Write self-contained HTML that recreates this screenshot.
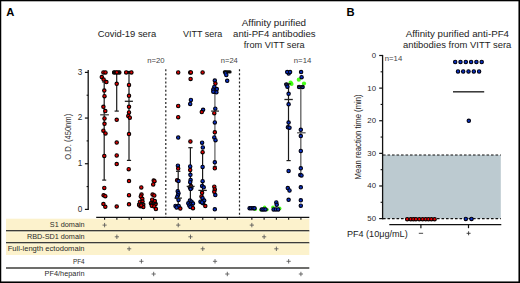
<!DOCTYPE html>
<html><head><meta charset="utf-8"><style>
html,body{margin:0;padding:0;background:#fff;}
#fig{position:relative;width:520px;height:283px;overflow:hidden;background:#fff;}
#fig svg{position:absolute;left:0;top:0;}
#fig text{font-family:"Liberation Sans",sans-serif;}
.border{position:absolute;left:0;top:0;width:520px;height:283px;box-sizing:border-box;border-style:solid;border-color:#000;border-width:1.2px 1.5px 1.5px 1.1px;}
</style></head><body>
<div id="fig">
<svg width="520" height="283" viewBox="0 0 520 283">
<rect x="6" y="218.7" width="303.3" height="36.3" fill="#fcf2cc"/>
<line x1="6" y1="230.8" x2="309.3" y2="230.8" stroke="#3c3c3a" stroke-width="1.6" stroke-linecap="butt"/>
<line x1="6" y1="232.10000000000002" x2="309.3" y2="232.10000000000002" stroke="#fffbe0" stroke-width="0.8" stroke-linecap="butt"/>
<line x1="6" y1="242.7" x2="309.3" y2="242.7" stroke="#3c3c3a" stroke-width="1.6" stroke-linecap="butt"/>
<line x1="6" y1="244.0" x2="309.3" y2="244.0" stroke="#fffbe0" stroke-width="0.8" stroke-linecap="butt"/>
<line x1="6" y1="268.0" x2="309.3" y2="268.0" stroke="#3c3c3a" stroke-width="1.6" stroke-linecap="butt"/>
<text x="84.6" y="227.2" font-size="7.6" text-anchor="end" font-weight="normal" fill="#2a2a2a" textLength="34.8" lengthAdjust="spacingAndGlyphs" >S1 domain</text>
<path d="M102.50 225.1h4.2M104.60 222.9v4.4" stroke="#555" stroke-width="0.85"/>
<path d="M176.12 225.1h4.2M178.22 222.9v4.4" stroke="#555" stroke-width="0.85"/>
<path d="M249.74 225.1h4.2M251.84 222.9v4.4" stroke="#555" stroke-width="0.85"/>
<text x="84.6" y="239.1" font-size="7.6" text-anchor="end" font-weight="normal" fill="#2a2a2a" textLength="57.7" lengthAdjust="spacingAndGlyphs" >RBD-SD1 domain</text>
<path d="M114.77 236.8h4.2M116.87 234.60000000000002v4.4" stroke="#555" stroke-width="0.85"/>
<path d="M188.39 236.8h4.2M190.49 234.60000000000002v4.4" stroke="#555" stroke-width="0.85"/>
<path d="M262.01 236.8h4.2M264.11 234.60000000000002v4.4" stroke="#555" stroke-width="0.85"/>
<text x="84.6" y="250.79999999999998" font-size="7.6" text-anchor="end" font-weight="normal" fill="#2a2a2a" textLength="76.9" lengthAdjust="spacingAndGlyphs" >Full-length ectodomain</text>
<path d="M127.04 248.8h4.2M129.14 246.60000000000002v4.4" stroke="#555" stroke-width="0.85"/>
<path d="M200.66 248.8h4.2M202.76 246.60000000000002v4.4" stroke="#555" stroke-width="0.85"/>
<path d="M274.28 248.8h4.2M276.38 246.60000000000002v4.4" stroke="#555" stroke-width="0.85"/>
<text x="84.6" y="263.59999999999997" font-size="7.6" text-anchor="end" font-weight="normal" fill="#2a2a2a" textLength="11.6" lengthAdjust="spacingAndGlyphs" >PF4</text>
<path d="M139.31 261.3h4.2M141.41 259.1v4.4" stroke="#555" stroke-width="0.85"/>
<path d="M212.93 261.3h4.2M215.03 259.1v4.4" stroke="#555" stroke-width="0.85"/>
<path d="M286.55 261.3h4.2M288.65 259.1v4.4" stroke="#555" stroke-width="0.85"/>
<text x="84.6" y="276.3" font-size="7.6" text-anchor="end" font-weight="normal" fill="#2a2a2a" textLength="40.0" lengthAdjust="spacingAndGlyphs" >PF4/heparin</text>
<path d="M151.58 274.0h4.2M153.68 271.8v4.4" stroke="#555" stroke-width="0.85"/>
<path d="M225.20 274.0h4.2M227.30 271.8v4.4" stroke="#555" stroke-width="0.85"/>
<path d="M298.82 274.0h4.2M300.92 271.8v4.4" stroke="#555" stroke-width="0.85"/>
<line x1="88.2" y1="69.9" x2="88.2" y2="210.0" stroke="#111" stroke-width="1.3"/>
<line x1="84.9" y1="209.4" x2="88.2" y2="209.4" stroke="#111" stroke-width="1.2" stroke-linecap="butt"/>
<line x1="84.9" y1="163.73000000000002" x2="88.2" y2="163.73000000000002" stroke="#111" stroke-width="1.2" stroke-linecap="butt"/>
<line x1="84.9" y1="118.06" x2="88.2" y2="118.06" stroke="#111" stroke-width="1.2" stroke-linecap="butt"/>
<line x1="84.9" y1="72.39000000000001" x2="88.2" y2="72.39000000000001" stroke="#111" stroke-width="1.2" stroke-linecap="butt"/>
<line x1="86.6" y1="186.565" x2="88.2" y2="186.565" stroke="#111" stroke-width="1.1" stroke-linecap="butt"/>
<line x1="86.6" y1="140.895" x2="88.2" y2="140.895" stroke="#111" stroke-width="1.1" stroke-linecap="butt"/>
<line x1="86.6" y1="95.225" x2="88.2" y2="95.225" stroke="#111" stroke-width="1.1" stroke-linecap="butt"/>
<text x="82.2" y="211.8" font-size="8.2" text-anchor="end" font-weight="normal" fill="#2a2a2a" >0</text>
<text x="82.2" y="166.13000000000002" font-size="8.2" text-anchor="end" font-weight="normal" fill="#2a2a2a" >1</text>
<text x="82.2" y="120.46000000000001" font-size="8.2" text-anchor="end" font-weight="normal" fill="#2a2a2a" >2</text>
<text x="82.2" y="74.79000000000002" font-size="8.2" text-anchor="end" font-weight="normal" fill="#2a2a2a" >3</text>
<line x1="96.2" y1="217.3" x2="309.3" y2="217.3" stroke="#111" stroke-width="1.3" stroke-linecap="butt"/>
<line x1="104.6" y1="217.3" x2="104.6" y2="219.8" stroke="#111" stroke-width="1.1"/>
<line x1="116.86999999999999" y1="217.3" x2="116.86999999999999" y2="219.8" stroke="#111" stroke-width="1.1"/>
<line x1="129.14" y1="217.3" x2="129.14" y2="219.8" stroke="#111" stroke-width="1.1"/>
<line x1="141.41" y1="217.3" x2="141.41" y2="219.8" stroke="#111" stroke-width="1.1"/>
<line x1="153.68" y1="217.3" x2="153.68" y2="219.8" stroke="#111" stroke-width="1.1"/>
<line x1="178.22" y1="217.3" x2="178.22" y2="219.8" stroke="#111" stroke-width="1.1"/>
<line x1="190.49" y1="217.3" x2="190.49" y2="219.8" stroke="#111" stroke-width="1.1"/>
<line x1="202.76" y1="217.3" x2="202.76" y2="219.8" stroke="#111" stroke-width="1.1"/>
<line x1="215.02999999999997" y1="217.3" x2="215.02999999999997" y2="219.8" stroke="#111" stroke-width="1.1"/>
<line x1="227.29999999999998" y1="217.3" x2="227.29999999999998" y2="219.8" stroke="#111" stroke-width="1.1"/>
<line x1="251.84" y1="217.3" x2="251.84" y2="219.8" stroke="#111" stroke-width="1.1"/>
<line x1="264.11" y1="217.3" x2="264.11" y2="219.8" stroke="#111" stroke-width="1.1"/>
<line x1="276.38" y1="217.3" x2="276.38" y2="219.8" stroke="#111" stroke-width="1.1"/>
<line x1="288.65" y1="217.3" x2="288.65" y2="219.8" stroke="#111" stroke-width="1.1"/>
<line x1="300.91999999999996" y1="217.3" x2="300.91999999999996" y2="219.8" stroke="#111" stroke-width="1.1"/>
<line x1="165.8" y1="69.2" x2="165.8" y2="217" stroke="#222" stroke-width="1.2" stroke-dasharray="2 2.1"/>
<line x1="239.5" y1="69.2" x2="239.5" y2="217" stroke="#222" stroke-width="1.2" stroke-dasharray="2 2.1"/>
<text transform="translate(71.2,136.8) rotate(-90)" font-size="8.8" text-anchor="middle" fill="#333" textLength="46" lengthAdjust="spacingAndGlyphs">O.D. (450nm)</text>
<text x="6.2" y="15.9" font-size="11.2" text-anchor="start" font-weight="bold" fill="#000" >A</text>
<text x="346.6" y="16.3" font-size="11.2" text-anchor="start" font-weight="bold" fill="#000" >B</text>
<text x="97.7" y="36.9" font-size="9.3" text-anchor="start" font-weight="normal" fill="#222" textLength="58.5" lengthAdjust="spacingAndGlyphs" >Covid-19 sera</text>
<text x="182.9" y="37.0" font-size="9.3" text-anchor="start" font-weight="normal" fill="#222" textLength="39.4" lengthAdjust="spacingAndGlyphs" >VITT sera</text>
<text x="241.8" y="26.2" font-size="9.3" text-anchor="start" font-weight="normal" fill="#222" textLength="64.3" lengthAdjust="spacingAndGlyphs" >Affinity purified</text>
<text x="233.1" y="37.1" font-size="9.3" text-anchor="start" font-weight="normal" fill="#222" textLength="82.5" lengthAdjust="spacingAndGlyphs" >anti-PF4 antibodies</text>
<text x="243.8" y="48.2" font-size="9.3" text-anchor="start" font-weight="normal" fill="#222" textLength="60.9" lengthAdjust="spacingAndGlyphs" >from VITT sera</text>
<text x="147.2" y="63.0" font-size="6.6" text-anchor="start" font-weight="normal" fill="#444" textLength="17.4" lengthAdjust="spacingAndGlyphs" >n=20</text>
<text x="220.8" y="63.0" font-size="6.6" text-anchor="start" font-weight="normal" fill="#444" textLength="17.0" lengthAdjust="spacingAndGlyphs" >n=24</text>
<text x="293.8" y="63.0" font-size="6.6" text-anchor="start" font-weight="normal" fill="#444" textLength="17.5" lengthAdjust="spacingAndGlyphs" >n=14</text>
<line x1="104.2" y1="82" x2="104.2" y2="180.1" stroke="#1a1a1a" stroke-width="1.2"/>
<line x1="102.2" y1="180.1" x2="106.2" y2="180.1" stroke="#1a1a1a" stroke-width="1.2" stroke-linecap="butt"/>
<line x1="102.2" y1="82" x2="106.2" y2="82" stroke="#1a1a1a" stroke-width="1.2" stroke-linecap="butt"/>
<line x1="116.7" y1="72.4" x2="116.7" y2="111.1" stroke="#1a1a1a" stroke-width="1.2"/>
<line x1="114.6" y1="111.1" x2="118.8" y2="111.1" stroke="#1a1a1a" stroke-width="1.2" stroke-linecap="butt"/>
<line x1="129" y1="72.4" x2="129" y2="160.4" stroke="#1a1a1a" stroke-width="1.2"/>
<line x1="126.9" y1="160.4" x2="131.1" y2="160.4" stroke="#1a1a1a" stroke-width="1.2" stroke-linecap="butt"/>
<line x1="178.2" y1="171.3" x2="178.2" y2="206" stroke="#1a1a1a" stroke-width="1.2"/>
<line x1="176" y1="171.3" x2="180.4" y2="171.3" stroke="#1a1a1a" stroke-width="1.2" stroke-linecap="butt"/>
<line x1="190.4" y1="147.7" x2="190.4" y2="203" stroke="#1a1a1a" stroke-width="1.2"/>
<line x1="188.3" y1="147.7" x2="192.6" y2="147.7" stroke="#1a1a1a" stroke-width="1.2" stroke-linecap="butt"/>
<line x1="202.6" y1="150" x2="202.6" y2="200" stroke="#1a1a1a" stroke-width="1.2"/>
<line x1="214.9" y1="92.8" x2="214.9" y2="166.5" stroke="#6a6a6a" stroke-width="1.3"/>
<line x1="212.8" y1="166.5" x2="217" y2="166.5" stroke="#6a6a6a" stroke-width="1.2" stroke-linecap="butt"/>
<line x1="288.5" y1="83.9" x2="288.5" y2="160.6" stroke="#1a1a1a" stroke-width="1.2"/>
<line x1="286.5" y1="160.6" x2="290.7" y2="160.6" stroke="#1a1a1a" stroke-width="1.2" stroke-linecap="butt"/>
<line x1="300.8" y1="86.4" x2="300.8" y2="175" stroke="#6a6a6a" stroke-width="1.4"/>
<line x1="298.6" y1="175" x2="303" y2="175" stroke="#6a6a6a" stroke-width="1.2" stroke-linecap="butt"/>
<circle cx="103.4" cy="72.4" r="1.7" fill="#e80000" stroke="#0a0000" stroke-width="1.1"/>
<circle cx="105.5" cy="72.4" r="1.7" fill="#e80000" stroke="#0a0000" stroke-width="1.1"/>
<circle cx="101.8" cy="77.1" r="1.7" fill="#e80000" stroke="#0a0000" stroke-width="1.1"/>
<circle cx="103.6" cy="79.6" r="1.7" fill="#e80000" stroke="#0a0000" stroke-width="1.1"/>
<circle cx="106.4" cy="82.1" r="1.7" fill="#e80000" stroke="#0a0000" stroke-width="1.1"/>
<circle cx="104.3" cy="90.6" r="1.7" fill="#e80000" stroke="#0a0000" stroke-width="1.1"/>
<circle cx="104.5" cy="96.2" r="1.7" fill="#e80000" stroke="#0a0000" stroke-width="1.1"/>
<circle cx="103.4" cy="106.8" r="1.7" fill="#e80000" stroke="#0a0000" stroke-width="1.1"/>
<circle cx="105.3" cy="111.1" r="1.7" fill="#e80000" stroke="#0a0000" stroke-width="1.1"/>
<circle cx="104.5" cy="118.5" r="1.7" fill="#e80000" stroke="#0a0000" stroke-width="1.1"/>
<circle cx="104.5" cy="123.8" r="1.7" fill="#e80000" stroke="#0a0000" stroke-width="1.1"/>
<circle cx="103.4" cy="130.7" r="1.7" fill="#e80000" stroke="#0a0000" stroke-width="1.1"/>
<circle cx="105.5" cy="133.4" r="1.7" fill="#e80000" stroke="#0a0000" stroke-width="1.1"/>
<circle cx="104.3" cy="155.9" r="1.7" fill="#e80000" stroke="#0a0000" stroke-width="1.1"/>
<circle cx="104.3" cy="188" r="1.7" fill="#e80000" stroke="#0a0000" stroke-width="1.1"/>
<circle cx="103.6" cy="195.3" r="1.7" fill="#e80000" stroke="#0a0000" stroke-width="1.1"/>
<circle cx="105.3" cy="196.2" r="1.7" fill="#e80000" stroke="#0a0000" stroke-width="1.1"/>
<circle cx="103.4" cy="204.1" r="1.7" fill="#e80000" stroke="#0a0000" stroke-width="1.1"/>
<circle cx="105.3" cy="206.8" r="1.7" fill="#e80000" stroke="#0a0000" stroke-width="1.1"/>
<circle cx="114.2" cy="72.4" r="1.7" fill="#e80000" stroke="#0a0000" stroke-width="1.1"/>
<circle cx="119.3" cy="72.4" r="1.7" fill="#e80000" stroke="#0a0000" stroke-width="1.1"/>
<circle cx="116.7" cy="83.8" r="1.7" fill="#e80000" stroke="#0a0000" stroke-width="1.1"/>
<circle cx="116.7" cy="119.8" r="1.7" fill="#e80000" stroke="#0a0000" stroke-width="1.1"/>
<circle cx="116.7" cy="142.6" r="1.7" fill="#e80000" stroke="#0a0000" stroke-width="1.1"/>
<circle cx="116.7" cy="155.5" r="1.7" fill="#e80000" stroke="#0a0000" stroke-width="1.1"/>
<circle cx="116.7" cy="164.1" r="1.7" fill="#e80000" stroke="#0a0000" stroke-width="1.1"/>
<circle cx="116.7" cy="206.6" r="1.7" fill="#e80000" stroke="#0a0000" stroke-width="1.1"/>
<circle cx="129" cy="84.9" r="1.7" fill="#e80000" stroke="#0a0000" stroke-width="1.1"/>
<circle cx="129" cy="95.8" r="1.7" fill="#e80000" stroke="#0a0000" stroke-width="1.1"/>
<circle cx="129" cy="106.8" r="1.7" fill="#e80000" stroke="#0a0000" stroke-width="1.1"/>
<circle cx="129" cy="112.4" r="1.7" fill="#e80000" stroke="#0a0000" stroke-width="1.1"/>
<circle cx="128.3" cy="115.9" r="1.7" fill="#e80000" stroke="#0a0000" stroke-width="1.1"/>
<circle cx="129.8" cy="117.7" r="1.7" fill="#e80000" stroke="#0a0000" stroke-width="1.1"/>
<circle cx="129" cy="134.1" r="1.7" fill="#e80000" stroke="#0a0000" stroke-width="1.1"/>
<circle cx="128.7" cy="169.2" r="1.7" fill="#e80000" stroke="#0a0000" stroke-width="1.1"/>
<circle cx="129" cy="181.1" r="1.7" fill="#e80000" stroke="#0a0000" stroke-width="1.1"/>
<circle cx="129" cy="195.2" r="1.7" fill="#e80000" stroke="#0a0000" stroke-width="1.1"/>
<circle cx="129" cy="204.3" r="1.7" fill="#e80000" stroke="#0a0000" stroke-width="1.1"/>
<circle cx="141.3" cy="187.4" r="1.7" fill="#e80000" stroke="#0a0000" stroke-width="1.1"/>
<circle cx="141.5" cy="194.6" r="1.7" fill="#e80000" stroke="#0a0000" stroke-width="1.1"/>
<circle cx="140.8" cy="196.5" r="1.7" fill="#e80000" stroke="#0a0000" stroke-width="1.1"/>
<circle cx="142.3" cy="198.8" r="1.7" fill="#e80000" stroke="#0a0000" stroke-width="1.1"/>
<circle cx="139.9" cy="202" r="1.7" fill="#e80000" stroke="#0a0000" stroke-width="1.1"/>
<circle cx="142.5" cy="201.6" r="1.7" fill="#e80000" stroke="#0a0000" stroke-width="1.1"/>
<circle cx="139.1" cy="205" r="1.7" fill="#e80000" stroke="#0a0000" stroke-width="1.1"/>
<circle cx="141.6" cy="204.1" r="1.7" fill="#e80000" stroke="#0a0000" stroke-width="1.1"/>
<circle cx="143.2" cy="204.8" r="1.7" fill="#e80000" stroke="#0a0000" stroke-width="1.1"/>
<circle cx="140.4" cy="206.2" r="1.7" fill="#e80000" stroke="#0a0000" stroke-width="1.1"/>
<circle cx="143.3" cy="207.1" r="1.7" fill="#e80000" stroke="#0a0000" stroke-width="1.1"/>
<circle cx="141.2" cy="205.4" r="1.7" fill="#e80000" stroke="#0a0000" stroke-width="1.1"/>
<circle cx="153.7" cy="180.4" r="1.7" fill="#e80000" stroke="#0a0000" stroke-width="1.1"/>
<circle cx="154.5" cy="181.2" r="1.7" fill="#e80000" stroke="#0a0000" stroke-width="1.1"/>
<circle cx="153.2" cy="184.4" r="1.7" fill="#e80000" stroke="#0a0000" stroke-width="1.1"/>
<circle cx="152.6" cy="194.6" r="1.7" fill="#e80000" stroke="#0a0000" stroke-width="1.1"/>
<circle cx="154.3" cy="195.5" r="1.7" fill="#e80000" stroke="#0a0000" stroke-width="1.1"/>
<circle cx="152.2" cy="199.7" r="1.7" fill="#e80000" stroke="#0a0000" stroke-width="1.1"/>
<circle cx="154.8" cy="201.1" r="1.7" fill="#e80000" stroke="#0a0000" stroke-width="1.1"/>
<circle cx="150.9" cy="203.3" r="1.7" fill="#e80000" stroke="#0a0000" stroke-width="1.1"/>
<circle cx="153.5" cy="203.7" r="1.7" fill="#e80000" stroke="#0a0000" stroke-width="1.1"/>
<circle cx="155.6" cy="204.1" r="1.7" fill="#e80000" stroke="#0a0000" stroke-width="1.1"/>
<circle cx="151.8" cy="205.8" r="1.7" fill="#e80000" stroke="#0a0000" stroke-width="1.1"/>
<circle cx="154.3" cy="206.5" r="1.7" fill="#e80000" stroke="#0a0000" stroke-width="1.1"/>
<circle cx="155.9" cy="209" r="1.7" fill="#e80000" stroke="#0a0000" stroke-width="1.1"/>
<circle cx="178.2" cy="72.4" r="1.7" fill="#e80000" stroke="#0a0000" stroke-width="1.1"/>
<circle cx="178.2" cy="106" r="1.7" fill="#e80000" stroke="#0a0000" stroke-width="1.1"/>
<circle cx="178.2" cy="117.2" r="1.7" fill="#e80000" stroke="#0a0000" stroke-width="1.1"/>
<circle cx="178.2" cy="137.6" r="1.7" fill="#0a32c8" stroke="#000010" stroke-width="1.1"/>
<circle cx="177.9" cy="165.7" r="1.7" fill="#0a32c8" stroke="#000010" stroke-width="1.1"/>
<circle cx="178.2" cy="168.6" r="1.7" fill="#e80000" stroke="#0a0000" stroke-width="1.1"/>
<circle cx="177.1" cy="180.3" r="1.7" fill="#e80000" stroke="#0a0000" stroke-width="1.1"/>
<circle cx="178.5" cy="181.1" r="1.7" fill="#0a32c8" stroke="#000010" stroke-width="1.1"/>
<circle cx="177.7" cy="191.3" r="1.7" fill="#0a32c8" stroke="#000010" stroke-width="1.1"/>
<circle cx="178.5" cy="193.2" r="1.7" fill="#0a32c8" stroke="#000010" stroke-width="1.1"/>
<circle cx="177.9" cy="195.3" r="1.7" fill="#0a32c8" stroke="#000010" stroke-width="1.1"/>
<circle cx="177.1" cy="197.2" r="1.7" fill="#0a32c8" stroke="#000010" stroke-width="1.1"/>
<circle cx="178.5" cy="200.1" r="1.7" fill="#0a32c8" stroke="#000010" stroke-width="1.1"/>
<circle cx="175.5" cy="205.9" r="1.7" fill="#0a32c8" stroke="#000010" stroke-width="1.1"/>
<circle cx="177.1" cy="206.8" r="1.7" fill="#0a32c8" stroke="#000010" stroke-width="1.1"/>
<circle cx="178.7" cy="205.9" r="1.7" fill="#0a32c8" stroke="#000010" stroke-width="1.1"/>
<circle cx="176.6" cy="207.5" r="1.7" fill="#0a32c8" stroke="#000010" stroke-width="1.1"/>
<circle cx="180.3" cy="208.6" r="1.7" fill="#e80000" stroke="#0a0000" stroke-width="1.1"/>
<circle cx="190.2" cy="72.4" r="1.7" fill="#e80000" stroke="#0a0000" stroke-width="1.1"/>
<circle cx="190.9" cy="72.4" r="1.7" fill="#e80000" stroke="#0a0000" stroke-width="1.1"/>
<circle cx="190.6" cy="78.9" r="1.7" fill="#e80000" stroke="#0a0000" stroke-width="1.1"/>
<circle cx="190.9" cy="100" r="1.7" fill="#0a32c8" stroke="#000010" stroke-width="1.1"/>
<circle cx="190.2" cy="103.9" r="1.7" fill="#0a32c8" stroke="#000010" stroke-width="1.1"/>
<circle cx="190.4" cy="141.5" r="1.7" fill="#e80000" stroke="#0a0000" stroke-width="1.1"/>
<circle cx="190.2" cy="166.5" r="1.7" fill="#0a32c8" stroke="#000010" stroke-width="1.1"/>
<circle cx="190.2" cy="170" r="1.7" fill="#e80000" stroke="#0a0000" stroke-width="1.1"/>
<circle cx="190.4" cy="174.8" r="1.7" fill="#0a32c8" stroke="#000010" stroke-width="1.1"/>
<circle cx="190.6" cy="180" r="1.7" fill="#0a32c8" stroke="#000010" stroke-width="1.1"/>
<circle cx="190.2" cy="182.2" r="1.7" fill="#0a32c8" stroke="#000010" stroke-width="1.1"/>
<circle cx="190.9" cy="186.1" r="1.7" fill="#e80000" stroke="#0a0000" stroke-width="1.1"/>
<circle cx="189.9" cy="187.5" r="1.7" fill="#0a32c8" stroke="#000010" stroke-width="1.1"/>
<circle cx="191.4" cy="188" r="1.7" fill="#0a32c8" stroke="#000010" stroke-width="1.1"/>
<circle cx="190.6" cy="189.1" r="1.7" fill="#0a32c8" stroke="#000010" stroke-width="1.1"/>
<circle cx="189.9" cy="200.6" r="1.7" fill="#0a32c8" stroke="#000010" stroke-width="1.1"/>
<circle cx="191.5" cy="201.7" r="1.7" fill="#0a32c8" stroke="#000010" stroke-width="1.1"/>
<circle cx="188.3" cy="203.3" r="1.7" fill="#0a32c8" stroke="#000010" stroke-width="1.1"/>
<circle cx="190.9" cy="203.8" r="1.7" fill="#0a32c8" stroke="#000010" stroke-width="1.1"/>
<circle cx="193" cy="203.6" r="1.7" fill="#0a32c8" stroke="#000010" stroke-width="1.1"/>
<circle cx="189.3" cy="205.4" r="1.7" fill="#0a32c8" stroke="#000010" stroke-width="1.1"/>
<circle cx="191.5" cy="205.9" r="1.7" fill="#0a32c8" stroke="#000010" stroke-width="1.1"/>
<circle cx="190.4" cy="207" r="1.7" fill="#0a32c8" stroke="#000010" stroke-width="1.1"/>
<circle cx="193" cy="208.2" r="1.7" fill="#e80000" stroke="#0a0000" stroke-width="1.1"/>
<circle cx="202.6" cy="72.4" r="1.7" fill="#e80000" stroke="#0a0000" stroke-width="1.1"/>
<circle cx="203.1" cy="109.8" r="1.7" fill="#0a32c8" stroke="#000010" stroke-width="1.1"/>
<circle cx="201.8" cy="112.1" r="1.7" fill="#e80000" stroke="#0a0000" stroke-width="1.1"/>
<circle cx="202.1" cy="142.7" r="1.7" fill="#0a32c8" stroke="#000010" stroke-width="1.1"/>
<circle cx="202.8" cy="147.5" r="1.7" fill="#0a32c8" stroke="#000010" stroke-width="1.1"/>
<circle cx="202.6" cy="152.2" r="1.7" fill="#e80000" stroke="#0a0000" stroke-width="1.1"/>
<circle cx="202.6" cy="166.9" r="1.7" fill="#0a32c8" stroke="#000010" stroke-width="1.1"/>
<circle cx="202.6" cy="181.2" r="1.7" fill="#0a32c8" stroke="#000010" stroke-width="1.1"/>
<circle cx="202.1" cy="185.9" r="1.7" fill="#0a32c8" stroke="#000010" stroke-width="1.1"/>
<circle cx="203.7" cy="187.3" r="1.7" fill="#0a32c8" stroke="#000010" stroke-width="1.1"/>
<circle cx="202.1" cy="192.8" r="1.7" fill="#e80000" stroke="#0a0000" stroke-width="1.1"/>
<circle cx="201.5" cy="196.4" r="1.7" fill="#e80000" stroke="#0a0000" stroke-width="1.1"/>
<circle cx="202.6" cy="198.2" r="1.7" fill="#0a32c8" stroke="#000010" stroke-width="1.1"/>
<circle cx="204.2" cy="200.6" r="1.7" fill="#0a32c8" stroke="#000010" stroke-width="1.1"/>
<circle cx="200.5" cy="201.7" r="1.7" fill="#0a32c8" stroke="#000010" stroke-width="1.1"/>
<circle cx="203.1" cy="203.3" r="1.7" fill="#0a32c8" stroke="#000010" stroke-width="1.1"/>
<circle cx="202.1" cy="202.5" r="1.7" fill="#0a32c8" stroke="#000010" stroke-width="1.1"/>
<circle cx="205.3" cy="206.1" r="1.7" fill="#e80000" stroke="#0a0000" stroke-width="1.1"/>
<circle cx="214.8" cy="80.6" r="1.7" fill="#0a32c8" stroke="#000010" stroke-width="1.1"/>
<circle cx="215.4" cy="83.6" r="1.7" fill="#e80000" stroke="#0a0000" stroke-width="1.1"/>
<circle cx="214.3" cy="87" r="1.7" fill="#0a32c8" stroke="#000010" stroke-width="1.1"/>
<circle cx="216.8" cy="89.1" r="1.7" fill="#0a32c8" stroke="#000010" stroke-width="1.1"/>
<circle cx="213.3" cy="89.6" r="1.7" fill="#0a32c8" stroke="#000010" stroke-width="1.1"/>
<circle cx="214.8" cy="91.7" r="1.7" fill="#0a32c8" stroke="#000010" stroke-width="1.1"/>
<circle cx="216.4" cy="92.3" r="1.7" fill="#0a32c8" stroke="#000010" stroke-width="1.1"/>
<circle cx="213.3" cy="91.7" r="1.7" fill="#0a32c8" stroke="#000010" stroke-width="1.1"/>
<circle cx="215.3" cy="108.7" r="1.7" fill="#0a32c8" stroke="#000010" stroke-width="1.1"/>
<circle cx="214.3" cy="113.2" r="1.7" fill="#e80000" stroke="#0a0000" stroke-width="1.1"/>
<circle cx="214.8" cy="122.4" r="1.7" fill="#0a32c8" stroke="#000010" stroke-width="1.1"/>
<circle cx="214.8" cy="132.3" r="1.7" fill="#e80000" stroke="#0a0000" stroke-width="1.1"/>
<circle cx="214.3" cy="137.4" r="1.7" fill="#0a32c8" stroke="#000010" stroke-width="1.1"/>
<circle cx="215.5" cy="140.2" r="1.7" fill="#0a32c8" stroke="#000010" stroke-width="1.1"/>
<circle cx="214.8" cy="162.3" r="1.7" fill="#0a32c8" stroke="#000010" stroke-width="1.1"/>
<circle cx="214.8" cy="168.3" r="1.7" fill="#e80000" stroke="#0a0000" stroke-width="1.1"/>
<circle cx="214.3" cy="186.7" r="1.7" fill="#e80000" stroke="#0a0000" stroke-width="1.1"/>
<circle cx="214.8" cy="189.4" r="1.7" fill="#e80000" stroke="#0a0000" stroke-width="1.1"/>
<circle cx="214.3" cy="191.8" r="1.7" fill="#e80000" stroke="#0a0000" stroke-width="1.1"/>
<circle cx="215.3" cy="195.1" r="1.7" fill="#0a32c8" stroke="#000010" stroke-width="1.1"/>
<circle cx="214.8" cy="209.3" r="1.7" fill="#0a32c8" stroke="#000010" stroke-width="1.1"/>
<circle cx="227.2" cy="80.8" r="1.7" fill="#0a32c8" stroke="#000010" stroke-width="1.1"/>
<circle cx="255.2" cy="209.0" r="1.9" fill="#33ff00" opacity="0.9"/>
<circle cx="264.6" cy="207.2" r="1.7" fill="#33ff00" opacity="0.9"/>
<circle cx="260.6" cy="209.8" r="1.6" fill="#33ff00" opacity="0.9"/>
<circle cx="267.2" cy="209.6" r="1.6" fill="#33ff00" opacity="0.9"/>
<circle cx="273.0" cy="207.2" r="1.8" fill="#33ff00" opacity="0.9"/>
<circle cx="279.6" cy="208.4" r="1.9" fill="#33ff00" opacity="0.9"/>
<circle cx="290.6" cy="82.6" r="2.1" fill="#33ff00" opacity="0.9"/>
<circle cx="291.6" cy="84.0" r="2.0" fill="#33ff00" opacity="0.9"/>
<circle cx="298.8" cy="79.7" r="2.1" fill="#33ff00" opacity="0.9"/>
<circle cx="304.0" cy="83.5" r="2.1" fill="#33ff00" opacity="0.9"/>
<line x1="248.6" y1="208.3" x2="255.2" y2="208.3" stroke="#111" stroke-width="2.0" stroke-linecap="butt"/>
<line x1="260.6" y1="209.4" x2="266.8" y2="209.4" stroke="#111" stroke-width="2.0" stroke-linecap="butt"/>
<line x1="272.8" y1="209.4" x2="279.4" y2="209.4" stroke="#111" stroke-width="2.0" stroke-linecap="butt"/>
<circle cx="249.6" cy="208.3" r="1.7" fill="#0a32c8" stroke="#000010" stroke-width="1.1"/>
<circle cx="251.3" cy="208.3" r="1.7" fill="#0a32c8" stroke="#000010" stroke-width="1.1"/>
<circle cx="253.2" cy="208.3" r="1.7" fill="#0a32c8" stroke="#000010" stroke-width="1.1"/>
<circle cx="254.5" cy="208.3" r="1.7" fill="#0a32c8" stroke="#000010" stroke-width="1.1"/>
<circle cx="261.8" cy="209.4" r="1.7" fill="#0a32c8" stroke="#000010" stroke-width="1.1"/>
<circle cx="263.5" cy="209.4" r="1.7" fill="#0a32c8" stroke="#000010" stroke-width="1.1"/>
<circle cx="265.5" cy="209.4" r="1.7" fill="#0a32c8" stroke="#000010" stroke-width="1.1"/>
<circle cx="276.3" cy="202.5" r="1.7" fill="#0a32c8" stroke="#000010" stroke-width="1.1"/>
<circle cx="276.7" cy="204.8" r="1.7" fill="#0a32c8" stroke="#000010" stroke-width="1.1"/>
<circle cx="273.6" cy="209.4" r="1.7" fill="#0a32c8" stroke="#000010" stroke-width="1.1"/>
<circle cx="275.9" cy="209.4" r="1.7" fill="#0a32c8" stroke="#000010" stroke-width="1.1"/>
<circle cx="278.2" cy="209.4" r="1.7" fill="#0a32c8" stroke="#000010" stroke-width="1.1"/>
<circle cx="288.7" cy="73.6" r="1.7" fill="#0a32c8" stroke="#000010" stroke-width="1.1"/>
<circle cx="287.2" cy="72.1" r="1.7" fill="#0a32c8" stroke="#000010" stroke-width="1.1"/>
<circle cx="290.1" cy="72.1" r="1.7" fill="#0a32c8" stroke="#000010" stroke-width="1.1"/>
<circle cx="286.4" cy="84.5" r="1.7" fill="#0a32c8" stroke="#000010" stroke-width="1.1"/>
<circle cx="287.4" cy="86.7" r="1.7" fill="#0a32c8" stroke="#000010" stroke-width="1.1"/>
<circle cx="288.6" cy="93.8" r="1.7" fill="#0a32c8" stroke="#000010" stroke-width="1.1"/>
<circle cx="288.6" cy="104.3" r="1.7" fill="#0a32c8" stroke="#000010" stroke-width="1.1"/>
<circle cx="288.6" cy="122.6" r="1.7" fill="#0a32c8" stroke="#000010" stroke-width="1.1"/>
<circle cx="287.9" cy="127.3" r="1.7" fill="#0a32c8" stroke="#000010" stroke-width="1.1"/>
<circle cx="289.5" cy="127.7" r="1.7" fill="#0a32c8" stroke="#000010" stroke-width="1.1"/>
<circle cx="288.6" cy="171" r="1.7" fill="#0a32c8" stroke="#000010" stroke-width="1.1"/>
<circle cx="287.8" cy="188.1" r="1.7" fill="#0a32c8" stroke="#000010" stroke-width="1.1"/>
<circle cx="289.5" cy="190.5" r="1.7" fill="#0a32c8" stroke="#000010" stroke-width="1.1"/>
<circle cx="288.6" cy="199.8" r="1.7" fill="#0a32c8" stroke="#000010" stroke-width="1.1"/>
<circle cx="301.1" cy="72.1" r="1.7" fill="#0a32c8" stroke="#000010" stroke-width="1.1"/>
<circle cx="301.6" cy="77.2" r="1.7" fill="#0a32c8" stroke="#000010" stroke-width="1.1"/>
<circle cx="299.1" cy="86.9" r="1.7" fill="#0a32c8" stroke="#000010" stroke-width="1.1"/>
<circle cx="302.6" cy="86.9" r="1.7" fill="#0a32c8" stroke="#000010" stroke-width="1.1"/>
<circle cx="300.8" cy="129.8" r="1.7" fill="#0a32c8" stroke="#000010" stroke-width="1.1"/>
<circle cx="300.8" cy="136.1" r="1.7" fill="#0a32c8" stroke="#000010" stroke-width="1.1"/>
<circle cx="300.8" cy="151" r="1.7" fill="#0a32c8" stroke="#000010" stroke-width="1.1"/>
<circle cx="300.8" cy="168.3" r="1.7" fill="#0a32c8" stroke="#000010" stroke-width="1.1"/>
<circle cx="300.3" cy="174.9" r="1.7" fill="#0a32c8" stroke="#000010" stroke-width="1.1"/>
<circle cx="301.5" cy="175.4" r="1.7" fill="#0a32c8" stroke="#000010" stroke-width="1.1"/>
<circle cx="300.8" cy="187.3" r="1.7" fill="#0a32c8" stroke="#000010" stroke-width="1.1"/>
<circle cx="300.8" cy="200.3" r="1.7" fill="#0a32c8" stroke="#000010" stroke-width="1.1"/>
<circle cx="300.8" cy="205.7" r="1.7" fill="#0a32c8" stroke="#000010" stroke-width="1.1"/>
<line x1="100.2" y1="114.8" x2="108.9" y2="114.8" stroke="#444" stroke-width="1.3" stroke-linecap="butt"/>
<line x1="113.8" y1="72.4" x2="119.0" y2="72.4" stroke="#0a0a0a" stroke-width="3.6" stroke-linecap="round"/>
<circle cx="116.8" cy="72.4" r="1.7" fill="#e80000" stroke="#0a0000" stroke-width="1.1"/>
<line x1="124.6" y1="72.4" x2="133.0" y2="72.4" stroke="#0a0a0a" stroke-width="3.0" stroke-linecap="butt"/>
<circle cx="126.2" cy="72.4" r="1.7" fill="#e80000" stroke="#0a0000" stroke-width="1.1"/>
<circle cx="131.4" cy="72.4" r="1.7" fill="#e80000" stroke="#0a0000" stroke-width="1.1"/>
<line x1="124.8" y1="101.3" x2="132.9" y2="101.3" stroke="#222" stroke-width="1.3" stroke-linecap="butt"/>
<line x1="137.2" y1="203.6" x2="145.2" y2="203.6" stroke="#111" stroke-width="1.2" stroke-linecap="butt"/>
<line x1="149.4" y1="203.4" x2="157.4" y2="203.4" stroke="#111" stroke-width="1.2" stroke-linecap="butt"/>
<line x1="174.5" y1="198.1" x2="181.9" y2="198.1" stroke="#222" stroke-width="1.3" stroke-linecap="butt"/>
<line x1="186.7" y1="186.4" x2="194.6" y2="186.4" stroke="#222" stroke-width="1.3" stroke-linecap="butt"/>
<line x1="198.4" y1="190.4" x2="206.8" y2="190.4" stroke="#222" stroke-width="1.3" stroke-linecap="butt"/>
<line x1="211.1" y1="111.1" x2="219" y2="111.1" stroke="#333" stroke-width="1.3" stroke-linecap="butt"/>
<circle cx="225.4" cy="72.8" r="1.7" fill="#0a32c8" stroke="#000010" stroke-width="1.1"/>
<line x1="224.4" y1="71.9" x2="230.0" y2="71.9" stroke="#0a0a0a" stroke-width="3.3" stroke-linecap="round"/>
<circle cx="226.3" cy="75.0" r="1.7" fill="#0a32c8" stroke="#000010" stroke-width="1.1"/>
<circle cx="225.6" cy="72.9" r="0.9" fill="#0a30b0"/>
<line x1="284.2" y1="83.9" x2="290.6" y2="83.9" stroke="#111" stroke-width="1.3" stroke-linecap="butt"/>
<line x1="284.4" y1="99.5" x2="292.8" y2="99.5" stroke="#222" stroke-width="1.3" stroke-linecap="butt"/>
<line x1="297.3" y1="86.4" x2="303.7" y2="86.4" stroke="#111" stroke-width="1.6" stroke-linecap="butt"/>
<line x1="297.1" y1="132.8" x2="305.6" y2="132.8" stroke="#555" stroke-width="1.3" stroke-linecap="butt"/>
<rect x="383" y="154.99" width="117.8" height="63.61" fill="#bccad0"/>
<line x1="383" y1="154.99" x2="500.8" y2="154.99" stroke="#111" stroke-width="1.2" stroke-dasharray="2.6 1.9"/>
<line x1="383" y1="218.60" x2="500.8" y2="218.60" stroke="#111" stroke-width="1.2" stroke-dasharray="2.6 1.9"/>
<line x1="382.6" y1="54.9" x2="382.6" y2="219.4" stroke="#111" stroke-width="1.3"/>
<line x1="379.2" y1="55.5" x2="382.6" y2="55.5" stroke="#111" stroke-width="1.2" stroke-linecap="butt"/>
<text x="376.0" y="57.9" font-size="7.8" text-anchor="end" font-weight="normal" fill="#2a2a2a" >0</text>
<line x1="379.2" y1="88.12" x2="382.6" y2="88.12" stroke="#111" stroke-width="1.2" stroke-linecap="butt"/>
<text x="376.0" y="90.52000000000001" font-size="7.8" text-anchor="end" font-weight="normal" fill="#2a2a2a" >10</text>
<line x1="379.2" y1="120.74" x2="382.6" y2="120.74" stroke="#111" stroke-width="1.2" stroke-linecap="butt"/>
<text x="376.0" y="123.14" font-size="7.8" text-anchor="end" font-weight="normal" fill="#2a2a2a" >20</text>
<line x1="379.2" y1="153.36" x2="382.6" y2="153.36" stroke="#111" stroke-width="1.2" stroke-linecap="butt"/>
<text x="376.0" y="155.76000000000002" font-size="7.8" text-anchor="end" font-weight="normal" fill="#2a2a2a" >30</text>
<line x1="379.2" y1="185.98" x2="382.6" y2="185.98" stroke="#111" stroke-width="1.2" stroke-linecap="butt"/>
<text x="376.0" y="188.38" font-size="7.8" text-anchor="end" font-weight="normal" fill="#2a2a2a" >40</text>
<line x1="379.2" y1="218.6" x2="382.6" y2="218.6" stroke="#111" stroke-width="1.2" stroke-linecap="butt"/>
<text x="376.0" y="221.0" font-size="7.8" text-anchor="end" font-weight="normal" fill="#2a2a2a" >50</text>
<line x1="380.6" y1="71.81" x2="382.6" y2="71.81" stroke="#111" stroke-width="1.1" stroke-linecap="butt"/>
<line x1="380.6" y1="104.43" x2="382.6" y2="104.43" stroke="#111" stroke-width="1.1" stroke-linecap="butt"/>
<line x1="380.6" y1="137.05" x2="382.6" y2="137.05" stroke="#111" stroke-width="1.1" stroke-linecap="butt"/>
<line x1="380.6" y1="169.67000000000002" x2="382.6" y2="169.67000000000002" stroke="#111" stroke-width="1.1" stroke-linecap="butt"/>
<line x1="380.6" y1="202.29" x2="382.6" y2="202.29" stroke="#111" stroke-width="1.1" stroke-linecap="butt"/>
<text transform="translate(361.2,136.9) rotate(-90)" font-size="8.9" text-anchor="middle" fill="#222" textLength="85" lengthAdjust="spacingAndGlyphs">Mean reaction time (min)</text>
<text x="384.8" y="60.6" font-size="6.6" text-anchor="start" font-weight="normal" fill="#444" textLength="17.4" lengthAdjust="spacingAndGlyphs" >n=14</text>
<text x="405.8" y="37.0" font-size="9.3" text-anchor="start" font-weight="normal" fill="#222" textLength="103.2" lengthAdjust="spacingAndGlyphs" >Affinity purified anti-PF4</text>
<text x="402.9" y="48.2" font-size="9.3" text-anchor="start" font-weight="normal" fill="#222" textLength="108.4" lengthAdjust="spacingAndGlyphs" >antibodies from VITT sera</text>
<line x1="389.3" y1="224.6" x2="501.3" y2="224.6" stroke="#111" stroke-width="1.3" stroke-linecap="butt"/>
<line x1="420.9" y1="224.6" x2="420.9" y2="228.2" stroke="#111" stroke-width="1.2"/>
<line x1="468.5" y1="224.6" x2="468.5" y2="228.2" stroke="#111" stroke-width="1.2"/>
<line x1="418.8" y1="233.3" x2="423.1" y2="233.3" stroke="#333" stroke-width="0.9" stroke-linecap="butt"/>
<path d="M466.6 233.3h4M468.6 231.3v4" stroke="#333" stroke-width="0.9"/>
<text x="346.9" y="237.3" font-size="9.2" text-anchor="start" font-weight="normal" fill="#222" textLength="60.8" lengthAdjust="spacingAndGlyphs" >PF4 (10μg/mL)</text>
<circle cx="455.2" cy="62.0" r="1.7" fill="#0a32c8" stroke="#000010" stroke-width="1.1"/>
<circle cx="460.5" cy="62.0" r="1.7" fill="#0a32c8" stroke="#000010" stroke-width="1.1"/>
<circle cx="465.8" cy="62.0" r="1.7" fill="#0a32c8" stroke="#000010" stroke-width="1.1"/>
<circle cx="471.1" cy="62.0" r="1.7" fill="#0a32c8" stroke="#000010" stroke-width="1.1"/>
<circle cx="476.4" cy="62.0" r="1.7" fill="#0a32c8" stroke="#000010" stroke-width="1.1"/>
<circle cx="481.7" cy="62.0" r="1.7" fill="#0a32c8" stroke="#000010" stroke-width="1.1"/>
<circle cx="458.0" cy="71.5" r="1.7" fill="#0a32c8" stroke="#000010" stroke-width="1.1"/>
<circle cx="463.2" cy="71.5" r="1.7" fill="#0a32c8" stroke="#000010" stroke-width="1.1"/>
<circle cx="468.5" cy="71.5" r="1.7" fill="#0a32c8" stroke="#000010" stroke-width="1.1"/>
<circle cx="473.8" cy="71.5" r="1.7" fill="#0a32c8" stroke="#000010" stroke-width="1.1"/>
<circle cx="479.1" cy="71.5" r="1.7" fill="#0a32c8" stroke="#000010" stroke-width="1.1"/>
<circle cx="468.8" cy="120.8" r="1.7" fill="#0a32c8" stroke="#000010" stroke-width="1.1"/>
<circle cx="465.8" cy="218.9" r="1.7" fill="#0a32c8" stroke="#000010" stroke-width="1.1"/>
<circle cx="471.5" cy="218.9" r="1.7" fill="#0a32c8" stroke="#000010" stroke-width="1.1"/>
<circle cx="407.2" cy="219.2" r="1.7" fill="#e80000" stroke="#0a0000" stroke-width="1.1"/>
<circle cx="410.8" cy="219.2" r="1.7" fill="#e80000" stroke="#0a0000" stroke-width="1.1"/>
<circle cx="413.4" cy="219.2" r="1.7" fill="#e80000" stroke="#0a0000" stroke-width="1.1"/>
<circle cx="415.9" cy="219.2" r="1.7" fill="#e80000" stroke="#0a0000" stroke-width="1.1"/>
<circle cx="419.3" cy="219.2" r="1.7" fill="#e80000" stroke="#0a0000" stroke-width="1.1"/>
<circle cx="422.6" cy="219.2" r="1.7" fill="#e80000" stroke="#0a0000" stroke-width="1.1"/>
<circle cx="425.7" cy="219.2" r="1.7" fill="#e80000" stroke="#0a0000" stroke-width="1.1"/>
<circle cx="428.5" cy="219.2" r="1.7" fill="#e80000" stroke="#0a0000" stroke-width="1.1"/>
<circle cx="431.4" cy="219.2" r="1.7" fill="#e80000" stroke="#0a0000" stroke-width="1.1"/>
<circle cx="434.6" cy="219.2" r="1.7" fill="#e80000" stroke="#0a0000" stroke-width="1.1"/>
<line x1="453" y1="91.8" x2="484.2" y2="91.8" stroke="#333" stroke-width="1.5" stroke-linecap="butt"/>
<rect x="0" y="0" width="520" height="1" fill="#000"/><rect x="1" y="1" width="518" height="1" fill="#000" opacity="0.3"/>
<rect x="0" y="0" width="1" height="283" fill="#000"/><rect x="1" y="1" width="1" height="281" fill="#000" opacity="0.25"/>
<rect x="519" y="0" width="1" height="283" fill="#000"/><rect x="518" y="1" width="1" height="281" fill="#000" opacity="0.55"/>
<rect x="0" y="282" width="520" height="1" fill="#000"/><rect x="1" y="281" width="518" height="1" fill="#000" opacity="0.55"/>
</svg>
</div>
</body></html>
